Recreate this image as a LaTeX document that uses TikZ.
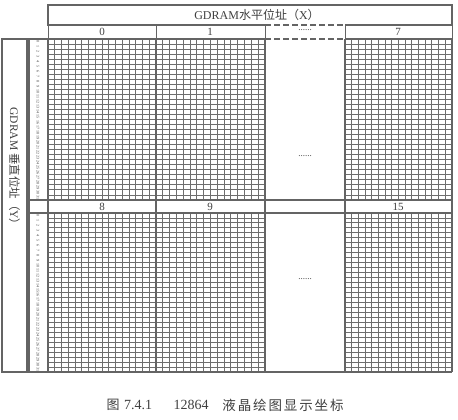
\documentclass[tikz,border=0pt]{standalone}
\usepackage{fontspec}
\setmainfont{Liberation Serif}
\newfontfamily\cjk{Noto Sans CJK SC}
\newfontfamily\cjkwide[LetterSpace=14]{Noto Sans CJK SC}
\definecolor{ln}{HTML}{6E6E6E}
\definecolor{fr}{HTML}{646464}
\definecolor{tx}{HTML}{404040}
\begin{document}
\begin{tikzpicture}[x=1pt,y=-1pt,
  gridline/.style={draw=ln, line width=0.9pt},
  framebox/.style={draw=fr, line width=1.4pt},
  thinbox/.style={draw=fr, line width=1pt},
  dashbox/.style={draw=fr, line width=1.2pt, dash pattern=on 6pt off 3pt},
  lbl/.style={font=\fontsize{11}{12}\selectfont, text=tx, inner sep=0pt},
  rownum/.style={font=\fontsize{4}{4.5}\selectfont, text=tx, inner sep=0pt, rotate=-90},
  dots/.style={font=\fontsize{9}{10}\selectfont, text=tx, inner sep=0pt}]
\useasboundingbox (0,0) rectangle (458,420);
\fill[white] (0,0) rectangle (458,420);
% grids
\foreach \a/\b in {48/156,156/265,345/452} {
  \foreach \c/\d in {39/200,213/372} {
    \foreach \i in {1,...,15}
      \draw[gridline] ({\a+(\b-\a)*\i/16},\c) -- ({\a+(\b-\a)*\i/16},\d);
    \foreach \j in {1,...,31}
      \draw[gridline] (\a,{\c+(\d-\c)*\j/32}) -- (\b,{\c+(\d-\c)*\j/32});
  }
}
% header
\draw[framebox] (265,25) -- (48,25) -- (48,5) -- (452,5) -- (452,25) -- (345,25);
\draw[dashbox] (265,25) -- (345,25);
\draw[dashbox] (265,39) -- (345,39);
\draw[thinbox] (48,25) -- (48,39);
\draw[thinbox] (156,25) -- (156,39);
\draw[thinbox] (265,25) -- (265,39);
\draw[thinbox] (345,25) -- (345,39);
\draw[thinbox] (452,25) -- (452,39);
\node[font=\fontsize{12}{13}\selectfont, text=tx, inner sep=0pt] (hx) at (257,15) {GDRAM{\cjk 水平位址（}X{\cjk ）}};
\node[lbl] (c0) at (102,32) {0};
\node[lbl] (c1) at (210,32) {1};
\node[dots] (cd) at (305,30.5) {......};
\node[lbl] (c7) at (398,32) {7};
% column frames
\draw[framebox] (48,39) -- (265,39);
\draw[framebox] (345,39) -- (452,39);
\foreach \x in {48,156,265,345,452}
  \draw[framebox] (\x,39) -- (\x,372);
\draw[framebox] (29,372) -- (452,372);
% middle row
\draw[framebox] (29,200) -- (452,200);
\draw[framebox] (29,213) -- (452,213);
\fill[white] (266,200.8) rectangle (344,212.2);
\draw[thinbox] (265,200) -- (345,200);
\draw[thinbox] (265,213) -- (345,213);
\node[lbl] (c8) at (102,206.8) {8};
\node[lbl] (c9) at (210,206.8) {9};
\node[lbl] (c15) at (398,206.8) {15};
\node[dots] (md1) at (305,156) {......};
\node[dots] (md2) at (305,279) {......};
% left boxes
\draw[framebox] (2,39) rectangle (27,372);
\draw[framebox] (29,39) rectangle (48,372);
\node[font=\fontsize{11.5}{12}\selectfont, text=tx, inner sep=0pt, rotate=-90] (vy) at (14.5,169) {GDRAM {\cjk 垂直位址（}Y{\cjk ）}};
\foreach \j in {0,...,31} {
  \node[rownum] (ru\j) at (38,{39+161*(\j+0.5)/32}) {\j};
  \node[rownum] (rl\j) at (38,{213+159*(\j+0.5)/32}) {\j};
}
% caption
\node[font=\fontsize{13}{14}\selectfont, text=tx, inner sep=0pt] (cap1) at (113,405) {\cjk 图};
\node[font=\fontsize{14}{15}\selectfont, text=tx, inner sep=0pt] (cap2) at (138,405) {7.4.1};
\node[font=\fontsize{14}{15}\selectfont, text=tx, inner sep=0pt] (cap3) at (191,405) {12864};
\node[font=\fontsize{13.5}{14}\selectfont, text=tx, inner sep=0pt] (cap4) at (283,405) {\cjkwide 液晶绘图显示坐标};
\end{tikzpicture}
\end{document}
